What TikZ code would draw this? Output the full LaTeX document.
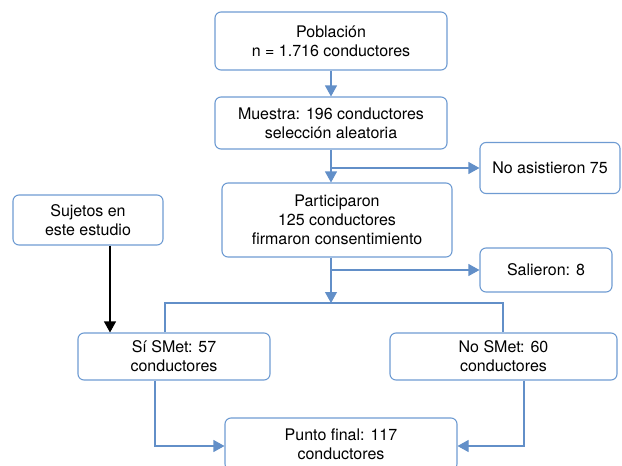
\documentclass[tikz,border=0pt]{standalone}
\usepackage{fontspec}
\setmainfont{TeX Gyre Heros}
\usetikzlibrary{positioning,arrows.meta,calc}
\definecolor{flowblue}{RGB}{98,143,200}
\definecolor{boxblue}{RGB}{110,155,210}

\begin{document}
\begin{tikzpicture}[
    x=1pt, y=-1pt,
    box/.style={rectangle, draw=boxblue, line width=1.1pt, rounded corners=6pt, align=center, font=\fontsize{16}{19}\selectfont, inner sep=0pt},
    arrow/.style={-{Triangle[length=11pt,width=12pt]}, flowblue, line width=1.1pt},
    line/.style={flowblue, line width=1.1pt},
    blackarrow/.style={-{Triangle[length=11pt,width=12pt]}, black, line width=1.1pt}
]
\useasboundingbox (0,0) rectangle (622,466);

% ===== MAIN COLUMN =====
\node[box, minimum width=232pt, minimum height=58pt] (pob) at (331,41) {Población\\n = 1.716 conductores};
\node[box, minimum width=232pt, minimum height=52pt] (mue) at (331,123) {Muestra: 196 conductores\\selección aleatoria};
\node[box, minimum width=230pt, minimum height=74pt] (par) at (337,220) {Participaron\\125 conductores\\firmaron consentimiento};

% ===== SIDE BOXES =====
\node[box, minimum width=140pt, minimum height=51pt] (noas) at (550,168) {No asistieron 75};
\node[box, minimum width=132pt, minimum height=44pt] (sal) at (546,270) {Salieron: 8};
\node[box, minimum width=150pt, minimum height=50pt] (suj) at (88,220) {Sujetos en\\este estudio};

% ===== GROUPS =====
\node[box, minimum width=192pt, minimum height=47pt] (si) at (174,356.5) {Sí SMet: 57\\conductores};
\node[box, minimum width=227pt, minimum height=47pt] (nosm) at (503.5,356.5) {No SMet: 60\\conductores};
\node[box, minimum width=232pt, minimum height=52pt] (fin) at (341,444) {Punto final: 117\\conductores};

% ===== COORDINATES =====
\coordinate (b1) at (331,168);
\coordinate (b2) at (331,270);
\coordinate (split) at (331,303);
\coordinate (sl) at (165,303);
\coordinate (sr) at (503,303);

% ===== ARROWS =====
\draw[arrow] (pob) -- (mue);
\draw[arrow] (mue.south) -- (mue.south |- par.north);
\draw[arrow] (b1) -- (noas.west);
\draw[arrow] (mue.south |- par.south) -- (split);
\draw[arrow] (b2) -- (sal.west);
\draw[line] (sl |- si.north) -- (sl) -- (sr) -- (sr |- nosm.north);
\draw[blackarrow] ([xshift=22pt]suj.south) -- ([xshift=22pt]suj.south |- si.north);
\draw[arrow] ([xshift=-19pt]si.south) |- ([yshift=-2pt]fin.west);
\draw[arrow] ([xshift=20.5pt]nosm.south) |- ([yshift=-2pt]fin.east);

\end{tikzpicture}
\end{document}
